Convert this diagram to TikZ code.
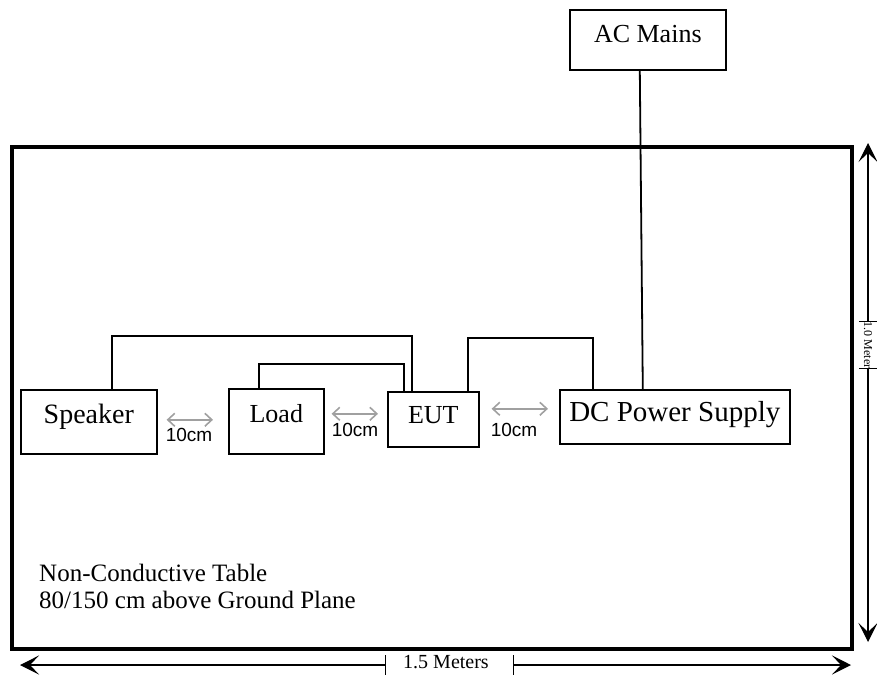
\documentclass[tikz,border=0pt]{standalone}
\usepackage{fontspec}
\setmainfont{Liberation Serif}
\newfontfamily\arialfont{Liberation Sans}
\usetikzlibrary{arrows.meta}
\definecolor{lgrey}{HTML}{A0A0A0}

\tikzset{
  unit/.style={draw, line width=1.6pt, inner sep=0pt, anchor=north west, font=\fontsize{26}{30}\selectfont},
  wire/.style={line width=1.8pt},
  gap/.style={lgrey, line width=1.6pt, {Straight Barb[length=7pt,width=13pt]}-{Straight Barb[length=7pt,width=13pt]}},
  cmlabel/.style={inner sep=0pt, font=\arialfont\fontsize{19}{20}\selectfont},
  dimline/.style={line width=1.3pt},
  dimtip/.tip={Stealth[length=19pt,width=19pt,inset=9pt]}
}

\begin{document}
\begin{tikzpicture}[x=1pt,y=-1pt]
\useasboundingbox (0,0) rectangle (877,674);

% table
\draw[line width=3.3pt] (12,147) rectangle (852,649);

\node[unit, minimum width=156pt, text height=33pt, text depth=27pt] (ac) at (569,9) {AC Mains};
\node[unit, minimum width=136pt, text height=34pt, text depth=30pt, font=\fontsize{28}{30}\selectfont] (spk) at (20,389) {Speaker};
\node[unit, minimum width=95pt, text height=34pt, text depth=31pt] (load) at (228,388) {Load};
\node[unit, minimum width=91pt, text height=32pt, text depth=23pt] (eut) at (387,391) {EUT};
\node[unit, minimum width=230pt, text height=32pt, text depth=22pt, font=\fontsize{29}{30}\selectfont] (dc) at (559,389) {DC Power Supply};

% cables
\draw[wire] ([xshift=-8pt]ac.south) -- ([xshift=-32pt]dc.north);
\draw[wire] ([xshift=-82pt]dc.north) -- ++(0,-51) -| ([xshift=34.5pt]eut.north);
\draw[wire] ([xshift=-29.5pt]eut.north) -- ++(0,-27) -| ([xshift=-17.5pt]load.north);
\draw[wire] ([xshift=-21.5pt]eut.north) -- ++(0,-55) -| ([xshift=23pt]spk.north);

% spacing
\draw[gap] ([xshift=9pt,yshift=2pt]spk.east) -- ([xshift=-15pt,yshift=1.5pt]load.west);
\draw[gap] ([xshift=7pt,yshift=7.5pt]load.east) -- ([xshift=-9pt,yshift=5.5pt]eut.west);
\draw[gap] ([xshift=12pt,yshift=10.5pt]eut.east) -- ([xshift=-11pt,yshift=8pt]dc.west);
\node[cmlabel] (cm1) at (189,435) {10cm};
\node[cmlabel] (cm2) at (355,430) {10cm};
\node[cmlabel] (cm3) at (514,430) {10cm};

\node[inner sep=0pt, anchor=base west, align=left, font=\fontsize{25}{27}\selectfont] (note) at (39,608) {Non-Conductive Table\\80/150 cm above Ground Plane};

% dimensions
\coordinate (wl) at (20,665);
\coordinate (wm1) at (386,665);
\coordinate (wm2) at (513,665);
\coordinate (wr) at (851,665);
\draw[dimline, {dimtip}-{Bar[width=20pt]}] (wl) -- (wm1);
\draw[dimline, {Bar[width=20pt]}-{dimtip}] (wm2) -- (wr);
\node[inner sep=0pt, anchor=base, font=\fontsize{20}{24}\selectfont] (wlabel) at (446,668) {1.5 Meters};

\coordinate (ht) at (868,143);
\coordinate (hm1) at (868,322);
\coordinate (hm2) at (868,368);
\coordinate (hb) at (868,642);
\draw[dimline, {dimtip}-{Bar[width=18pt]}] (ht) -- (hm1);
\draw[dimline, {Bar[width=18pt]}-{dimtip}] (hm2) -- (hb);
\node[inner sep=0pt, rotate=-90, font=\fontsize{12}{14}\selectfont] (hlabel) at (868,345) {1.0 Meter};
\end{tikzpicture}
\end{document}
